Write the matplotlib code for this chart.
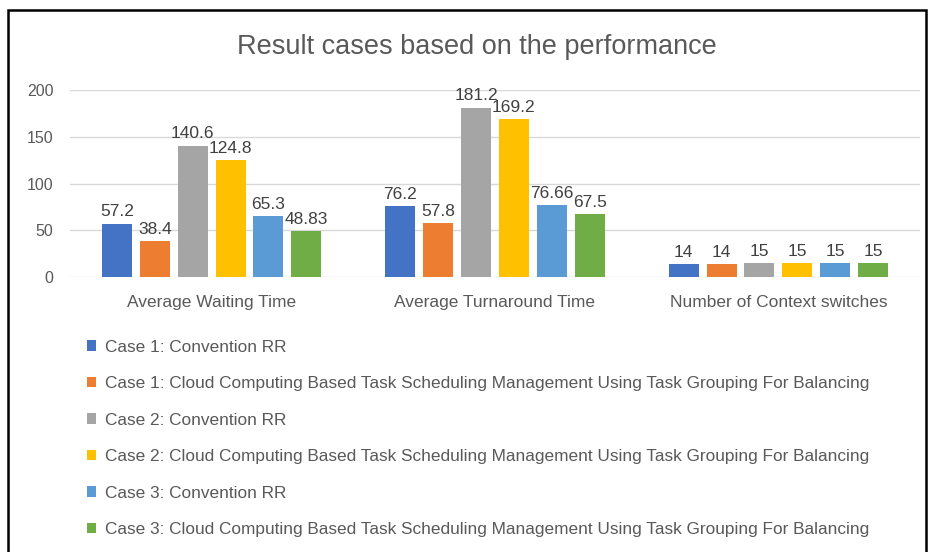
import matplotlib
matplotlib.use("Agg")
import matplotlib.pyplot as plt
from matplotlib.patches import Rectangle
import numpy as np

categories = ["Average Waiting Time", "Average Turnaround Time", "Number of Context switches"]
series_names = [
    "Case 1: Convention RR",
    "Case 1: Cloud Computing Based Task Scheduling Management Using Task Grouping For Balancing",
    "Case 2: Convention RR",
    "Case 2: Cloud Computing Based Task Scheduling Management Using Task Grouping For Balancing",
    "Case 3: Convention RR",
    "Case 3: Cloud Computing Based Task Scheduling Management Using Task Grouping For Balancing",
]
case1_rr = [57.2, 76.2, 14]
case1_cc = [38.4, 57.8, 14]
case2_rr = [140.6, 181.2, 15]
case2_cc = [124.8, 169.2, 15]
case3_rr = [65.3, 76.66, 15]
case3_cc = [48.83, 67.5, 15]
label_texts = [
    ["57.2", "76.2", "14"],
    ["38.4", "57.8", "14"],
    ["140.6", "181.2", "15"],
    ["124.8", "169.2", "15"],
    ["65.3", "76.66", "15"],
    ["48.83", "67.5", "15"],
]
series_values = [case1_rr, case1_cc, case2_rr, case2_cc, case3_rr, case3_cc]
colors = ["#4472C4", "#ED7D31", "#A5A5A5", "#FFC000", "#5B9BD5", "#70AD47"]
yticks = [0, 50, 100, 150, 200]

plt.rcParams['font.family'] = ['Liberation Sans', 'DejaVu Sans']
txt = "#595959"

fig = plt.figure(figsize=(9.33, 5.52), dpi=100)
W, H = 933, 552
ax = fig.add_axes([70 / W, 1 - 277 / H, 850 / W, 187 / H])

x = np.arange(len(categories))
pitch = 0.1335
bw = 0.106
handles = []
for i, (vals, c) in enumerate(zip(series_values, colors)):
    off = (i - 2.5) * pitch
    b = ax.bar(x + off, vals, width=bw, color=c, zorder=3, label=series_names[i])
    ax.bar_label(b, labels=label_texts[i], padding=3, fontsize=12.5, color="#404040")
    handles.append(b)

ax.set_xlim(-0.5, 2.5)
ax.set_ylim(0, 200)
ax.set_yticks(yticks)
ax.set_xticks(x)
ax.set_xticklabels(categories)
ax.tick_params(axis='x', length=0, colors=txt, labelsize=12.5, pad=13)
ax.tick_params(axis='y', length=0, colors=txt, labelsize=11.5, pad=12)
ax.grid(axis='y', color="#D9D9D9", linewidth=1, zorder=0)
for s in ax.spines.values():
    s.set_visible(False)

fig.text(477 / W, 1 - 47 / H, "Result cases based on the performance", ha='center', va='center',
         fontsize=19.5, color=txt)

leg = fig.legend(handles=handles, labels=series_names, loc='upper left',
                 bbox_to_anchor=(71 / W, 1 - 324 / H), frameon=False,
                 handlelength=0.55, handleheight=0.55, handletextpad=0.5,
                 labelspacing=1.25, fontsize=12.4, labelcolor=txt)

fig.patches.append(Rectangle((8 / W, -0.1), (926 - 8) / W, 1.1 - 10 / H, transform=fig.transFigure,
                             fill=False, edgecolor='black', linewidth=1.8))

fig.savefig("out.png", dpi=100)
